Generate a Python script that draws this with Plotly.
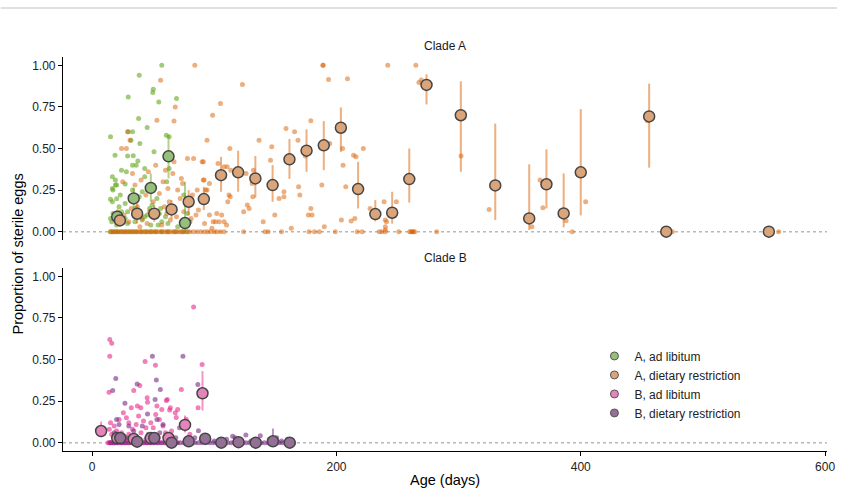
import plotly.graph_objects as go

# ---------------- data ----------------
# Clade A, ad libitum (raw points)
a_al_day = [57, 38.5, 50, 49.6, 29.5, 54.5, 69, 38, 45, 15, 60.7, 63, 33, 29.5, 39, 31.7, 50.6, 18.7, 29, 33.6,
            37.4, 36, 33, 28, 24, 16.5, 19, 43, 43, 19, 16.5, 17, 20, 27, 41, 38.5, 45, 47, 15, 16.5, 20, 22, 27,
            29, 24, 17, 15, 16, 20, 25, 27, 29, 35, 41, 43, 38, 47, 49, 55, 57, 48, 54, 62, 70, 78, 80, 63, 61, 75,
            53, 56, 31, 33, 23, 35, 45, 60,
            15, 17, 19, 21, 24, 27, 30, 33, 36, 40, 44, 48, 52, 57, 62, 68, 74, 78]
a_al_val = [1.00, 0.94, 0.856, 0.837, 0.81, 0.78, 0.80, 0.68, 0.627, 0.57, 0.58, 0.57, 0.60, 0.60, 0.53, 0.55, 0.48,
            0.46, 0.455, 0.457, 0.425, 0.40, 0.40, 0.36, 0.37, 0.33, 0.31, 0.38, 0.33, 0.28, 0.26, 0.25, 0.28, 0.286,
            0.24, 0.21, 0.25, 0.26, 0.195, 0.18, 0.198, 0.15, 0.17, 0.12, 0.12, 0.11, 0.08, 0.06, 0.04, 0.06, 0.08,
            0.05, 0.06, 0.07, 0.09, 0.11, 0.14, 0.16, 0.11, 0.06, 0.04, 0.04, 0.05, 0.03, 0.11, 0.06, 0.38, 0.30,
            0.22, 0.20, 0.14, 0.21, 0.25, 0.22, 0.14, 0.10, 0.09,
            0, 0, 0, 0, 0, 0, 0, 0, 0, 0, 0, 0, 0, 0, 0, 0, 0, 0]

# Clade A, dietary restriction (raw points)
a_dr_day = [84, 56, 68, 67, 53, 94, 29, 31, 24, 28, 83, 90, 67, 52, 46, 60, 58, 25, 35, 40, 33, 66, 73, 62, 70, 48,
            44, 55, 72, 79, 87, 21, 26, 32, 37, 41, 47, 52, 59, 64, 69, 75, 82, 85, 89, 91, 93, 92, 23, 30, 39, 45,
            57, 61, 77, 81, 34, 50, 63, 74, 78, 86,
            123, 105, 98.6, 91, 103, 108, 110.5, 112.7, 113.5, 136.6, 147, 146, 158.7, 165.7, 168.5, 179, 174.5,
            189, 189, 193.5, 209, 242, 265, 267.5, 269.4, 194.5, 205, 205.4, 214, 216, 222, 188, 207.6, 112, 113,
            111, 104, 101, 108, 106, 102, 96, 99, 98, 110, 96, 94, 91.6, 89, 124, 127, 128.5, 131, 131.5, 126, 132,
            140, 149.5, 153, 157, 157, 163, 169, 170, 177, 180, 179, 190, 204, 212, 215, 227.5, 239, 240, 240, 241,
            240, 249,
            302, 325, 360, 366.7, 369, 388, 404, 454.5,
            15, 17, 19, 21, 23, 25, 27, 29, 31, 33, 35, 37, 39, 41, 43, 45, 47, 49, 51, 53, 55, 57, 59, 61, 63, 65,
            67, 69, 71, 73, 75, 77, 80, 83, 86, 89, 92, 94.5, 97, 100, 102, 105, 108, 124, 141.5, 144, 155, 177.5,
            182, 186, 199, 217, 221, 235, 237, 240, 251, 260, 261, 262, 263, 264, 282, 393, 475, 562]
a_dr_val = [1.00, 0.91, 0.75, 0.665, 0.67, 0.55, 0.60, 0.55, 0.50, 0.50, 0.44, 0.42, 0.42, 0.40, 0.36, 0.37, 0.30,
            0.30, 0.28, 0.31, 0.35, 0.35, 0.32, 0.26, 0.25, 0.27, 0.22, 0.23, 0.20, 0.19, 0.13, 0.12, 0.10, 0.14,
            0.15, 0.08, 0.12, 0.10, 0.15, 0.07, 0.09, 0.12, 0.22, 0.10, 0.20, 0.31, 0.25, 0.05, 0.05, 0.06, 0.03,
            0.05, 0.04, 0.11, 0.05, 0.08, 0.19, 0.18, 0.18, 0.29, 0.44, 0.25,
            0.885, 0.77, 0.70, 0.42, 0.41, 0.39, 0.39, 0.50, 0.37, 0.55, 0.51, 0.43, 0.62, 0.60, 0.55, 0.667, 0.455,
            1.00, 1.00, 0.915, 0.92, 1.00, 1.00, 0.896, 0.912, 0.53, 0.50, 0.40, 0.46, 0.45, 0.50, 0.28, 0.27, 0.22,
            0.21, 0.18, 0.06, 0.06, 0.06, 0.10, 0.11, 0.10, 0.06, 0.02, 0.04, 0.29, 0.25, 0.31, 0.20, 0.12, 0.16,
            0.14, 0.29, 0.21, 0.35, 0.37, 0.06, 0.10, 0.20, 0.21, 0.24, 0.02, 0.27, 0.22, 0.10, 0.10, 0.14, 0.03,
            0.07, 0.065, 0.08, 0.14, 0.18, 0.07, 0.03, 0.06, 0.01, 0.18,
            0.455, 0.134, 0.03, 0.31, 0.144, 0.066, 0.18, 0.667,
            0, 0, 0, 0, 0, 0, 0, 0, 0, 0, 0, 0, 0, 0, 0, 0, 0, 0, 0, 0, 0, 0, 0, 0, 0, 0, 0, 0, 0, 0, 0, 0, 0, 0, 0,
            0, 0, 0, 0, 0, 0, 0, 0, 0, 0, 0, 0, 0, 0, 0, 0, 0, 0, 0, 0, 0, 0, 0, 0, 0, 0, 0, 0, 0, 0, 0]

# Clade B, ad libitum (raw points)
b_al_day = [83, 14.4, 16, 14.4, 13.8, 43.3, 51.8, 90, 73, 86.7, 34, 39, 45, 45.3, 39.8, 32, 25.5, 61.5, 64, 68, 38,
            42, 36, 28, 30, 22, 18, 15, 14, 16, 20, 24, 26, 30, 33, 40, 44, 48, 52, 55, 58, 60, 65, 70, 57, 50, 47,
            54, 62, 35, 28, 18, 22, 77, 80, 53, 37, 60.7, 63.4, 68.8,
            13, 14, 15, 16, 17, 18, 19, 20, 22, 24, 26, 28, 30, 32, 34, 36, 38, 40, 42, 44, 46, 48, 50, 53, 56, 59,
            62, 66, 70]
b_al_val = [0.815, 0.62, 0.597, 0.52, 0.303, 0.488, 0.466, 0.47, 0.32, 0.21, 0.313, 0.343, 0.27, 0.243, 0.21, 0.21,
            0.18, 0.26, 0.21, 0.18, 0.16, 0.13, 0.11, 0.15, 0.12, 0.14, 0.10, 0.12, 0.08, 0.05, 0.07, 0.06, 0.04,
            0.05, 0.08, 0.06, 0.09, 0.12, 0.17, 0.14, 0.10, 0.06, 0.07, 0.20, 0.20, 0.09, 0.04, 0.03, 0.03, 0.03,
            0.02, 0.03, 0.02, 0.14, 0.05, 0.22, 0.22, 0.253, 0.197, 0.152,
            0, 0, 0, 0, 0, 0, 0, 0, 0, 0, 0, 0, 0, 0, 0, 0, 0, 0, 0, 0, 0, 0, 0, 0, 0, 0, 0, 0, 0]

# Clade B, dietary restriction (raw points)
b_dr_day = [49.3, 74.3, 19.3, 16.8, 52.5, 55.8, 51.5, 36.8, 86.5, 26.8, 45.3, 20, 22, 87, 71.5, 55.3, 115, 117,
            125.8, 137.6, 151, 68.5, 53, 30, 34, 41, 46, 58, 62, 18, 24, 28, 38, 44, 64, 78, 84, 95, 100, 110, 130,
            145, 155, 160,
            15, 18, 21, 24, 27, 30, 33, 36, 39, 42, 45, 48, 51, 54, 57, 60, 63, 66, 69, 72, 75, 78, 81, 84, 87, 90,
            93, 96, 99, 102, 105, 108, 111, 114, 117, 120, 123, 126, 129, 132, 135, 138, 141, 144, 147, 150, 153,
            156, 159, 162, 165]
b_dr_val = [0.52, 0.52, 0.386, 0.313, 0.377, 0.32, 0.26, 0.353, 0.35, 0.237, 0.173, 0.14, 0.11, 0.072, 0.09, 0.06,
            0.038, 0.03, 0.046, 0.042, 0.03, 0.03, 0.14, 0.10, 0.07, 0.10, 0.05, 0.11, 0.05, 0.06, 0.04, 0.03, 0.02,
            0.02, 0.02, 0.02, 0.03, 0.02, 0.01, 0.02, 0.01, 0.02, 0.01, 0.02,
            0, 0, 0, 0, 0, 0, 0, 0, 0, 0, 0, 0, 0, 0, 0, 0, 0, 0, 0, 0, 0, 0, 0, 0, 0, 0, 0, 0, 0, 0, 0, 0, 0, 0, 0,
            0, 0, 0, 0, 0, 0, 0, 0, 0, 0, 0, 0, 0, 0, 0, 0]

# Binned summaries (mean with interval)
a_al_sum_day = [20.5, 34, 48, 62.5, 76]
a_al_sum_mean = [0.09, 0.20, 0.263, 0.453, 0.052]
a_al_sum_lo = [0.06, 0.145, 0.18, 0.32, 0.0]
a_al_sum_hi = [0.125, 0.263, 0.35, 0.58, 0.30]

a_dr_sum_day = [22.7, 36.8, 50.8, 65, 79, 91.4, 105.5, 119.5, 133.6, 147.7, 161.5, 175.5, 189.6, 203.6, 217.7,
                231.8, 245.6, 259.6, 273.7, 301.8, 330, 357.8, 371.9, 386, 400, 456, 470, 554]
a_dr_sum_mean = [0.068, 0.108, 0.108, 0.134, 0.18, 0.196, 0.34, 0.357, 0.32, 0.28, 0.435, 0.487, 0.519, 0.625,
                 0.256, 0.106, 0.114, 0.316, 0.882, 0.70, 0.278, 0.08, 0.285, 0.11, 0.357, 0.693, 0.0, 0.0]
a_dr_sum_lo = [0.04, 0.05, 0.06, 0.08, 0.10, 0.13, 0.24, 0.24, 0.205, 0.18, 0.317, 0.36, 0.37, 0.48, 0.14, 0.062,
               0.048, 0.175, 0.765, 0.36, 0.07, 0.01, 0.14, 0.026, 0.098, 0.385, 0.0, 0.0]
a_dr_sum_hi = [0.10, 0.17, 0.16, 0.19, 0.25, 0.27, 0.45, 0.487, 0.455, 0.40, 0.557, 0.615, 0.665, 0.747, 0.42,
               0.19, 0.24, 0.50, 0.946, 0.904, 0.65, 0.405, 0.495, 0.35, 0.737, 0.89, 0.0, 0.0]

b_al_sum_day = [7.3, 20.5, 34, 48, 62.5, 76, 90.3]
b_al_sum_mean = [0.07, 0.028, 0.022, 0.028, 0.028, 0.107, 0.297]
b_al_sum_lo = [0.032, 0.015, 0.01, 0.015, 0.015, 0.062, 0.193]
b_al_sum_hi = [0.127, 0.045, 0.035, 0.045, 0.045, 0.163, 0.43]

b_dr_sum_day = [23, 36.8, 50.8, 65, 79, 92.5, 105.7, 119.8, 133.9, 148, 161.7]
b_dr_sum_mean = [0.028, 0.006, 0.028, 0.0, 0.008, 0.024, 0.0, 0.003, 0.0, 0.008, 0.0]
b_dr_sum_lo = [0.015, 0.0, 0.015, 0.0, 0.0, 0.01, 0.0, 0.0, 0.0, 0.0, 0.0]
b_dr_sum_hi = [0.04, 0.015, 0.04, 0.005, 0.02, 0.04, 0.005, 0.01, 0.005, 0.085, 0.005]

group_names = ["A, ad libitum", "A, dietary restriction", "B, ad libitum", "B, dietary restriction"]
y_ticks = [0, 0.25, 0.5, 0.75, 1.0]
y_tick_text = ["0.00", "0.25", "0.50", "0.75", "1.00"]
x_ticks = [0, 200, 400, 600]
x_tick_text = ["0", "200", "400", "600"]

# ---------------- styling ----------------
base = {
    "A, ad libitum": (102, 166, 30),
    "A, dietary restriction": (217, 95, 2),
    "B, ad libitum": (231, 41, 138),
    "B, dietary restriction": (118, 42, 131),
}
summary_fill = {
    "A, ad libitum": "rgb(150,192,122)",
    "A, dietary restriction": "rgb(218,165,122)",
    "B, ad libitum": "rgb(228,132,186)",
    "B, dietary restriction": "rgb(148,112,148)",
}


def rgba(c, a):
    return "rgba(%d,%d,%d,%.2f)" % (c[0], c[1], c[2], a)


raw_alpha = {"A, ad libitum": 0.6, "A, dietary restriction": 0.5,
             "B, ad libitum": 0.6, "B, dietary restriction": 0.6}

fig = go.Figure()

raw_sets = [
    ("A, ad libitum", a_al_day, a_al_val, "x", "y"),
    ("A, dietary restriction", a_dr_day, a_dr_val, "x", "y"),
    ("B, ad libitum", b_al_day, b_al_val, "x2", "y2"),
    ("B, dietary restriction", b_dr_day, b_dr_val, "x2", "y2"),
]
for name, xs, ys, xa, ya in raw_sets:
    fig.add_trace(go.Scatter(
        x=xs, y=ys, mode="markers", xaxis=xa, yaxis=ya, showlegend=False, hoverinfo="skip",
        marker=dict(size=5, color=rgba(base[name], raw_alpha[name]), line=dict(width=0)),
    ))

sum_sets = [
    ("A, ad libitum", a_al_sum_day, a_al_sum_mean, a_al_sum_lo, a_al_sum_hi, "x", "y"),
    ("A, dietary restriction", a_dr_sum_day, a_dr_sum_mean, a_dr_sum_lo, a_dr_sum_hi, "x", "y"),
    ("B, ad libitum", b_al_sum_day, b_al_sum_mean, b_al_sum_lo, b_al_sum_hi, "x2", "y2"),
    ("B, dietary restriction", b_dr_sum_day, b_dr_sum_mean, b_dr_sum_lo, b_dr_sum_hi, "x2", "y2"),
]
for name, xs, m, lo, hi, xa, ya in sum_sets:
    fig.add_trace(go.Scatter(
        x=xs, y=m, mode="markers", xaxis=xa, yaxis=ya, showlegend=False, hoverinfo="skip",
        error_y=dict(type="data", symmetric=False,
                     array=[h - v for h, v in zip(hi, m)],
                     arrayminus=[v - l for v, l in zip(m, lo)],
                     color=rgba(base[name], 0.5), thickness=2, width=0),
        marker=dict(size=11, color=summary_fill[name], line=dict(width=1.5, color="#454545")),
    ))

# legend-only entries
for name in group_names:
    fig.add_trace(go.Scatter(
        x=[None], y=[None], mode="markers", name=name, xaxis="x2", yaxis="y2",
        marker=dict(size=8, color=summary_fill[name], line=dict(width=1, color="#555555")),
    ))

FONT = "Liberation Sans, Arial, sans-serif"
axis_font = dict(family=FONT, size=12, color="#222222")

yaxis_common = dict(range=[-0.05, 1.05], tickvals=y_ticks, ticktext=y_tick_text, showgrid=False,
                    zeroline=False, showline=True, linecolor="black", linewidth=1.2, ticks="outside",
                    ticklen=4, tickcolor="black", tickwidth=1.1, tickfont=axis_font)

x_range = [-23.9, 601.6]

fig.update_layout(
    width=845, height=488,
    margin=dict(l=63, r=10, t=57, b=37),
    paper_bgcolor="white", plot_bgcolor="white",
    font=dict(family=FONT, color="black"),
    xaxis=dict(domain=[0, 1], anchor="y", range=x_range, showticklabels=False, showgrid=False,
               zeroline=False, showline=False, ticks=""),
    yaxis=dict(domain=[0.5355, 1], anchor="x", **yaxis_common),
    xaxis2=dict(domain=[0, 1], anchor="y2", range=x_range, tickvals=x_ticks, ticktext=x_tick_text,
                showgrid=False, zeroline=False, showline=True, linecolor="black", linewidth=1.2,
                ticks="outside", ticklen=4, tickcolor="black", tickwidth=1.1, tickfont=axis_font),
    yaxis2=dict(domain=[0, 0.4645], anchor="x2", **yaxis_common),
    legend=dict(x=0.6956, y=0.278, xanchor="left", yanchor="top", bgcolor="rgba(0,0,0,0)",
                font=dict(family=FONT, size=12, color="#222222"),
                tracegroupgap=0, itemwidth=30),
    showlegend=True,
)

# zero reference lines (dotted)
for ya in ["y", "y2"]:
    fig.add_shape(type="line", xref="paper", x0=0, x1=1, yref=ya, y0=0, y1=0,
                  line=dict(color="#b8b8b8", width=1.5, dash="dot"), layer="below")

# thin grey rule at top of page
fig.add_shape(type="line", xref="paper", yref="paper", x0=-0.0816, x1=1.013, y0=1.1244, y1=1.1244,
              line=dict(color="#d6d6d6", width=1.5))

# facet titles and axis titles
fig.add_annotation(text="Clade A", xref="paper", yref="paper", x=0.5, y=1.028, xanchor="center",
                   yanchor="middle", showarrow=False, font=dict(size=12, color="#1a1a1a"))
fig.add_annotation(text="Clade B", xref="paper", yref="paper", x=0.5, y=0.49, xanchor="center",
                   yanchor="middle", showarrow=False, font=dict(size=12, color="#1a1a1a"))
fig.add_annotation(text="Proportion of sterile eggs", xref="paper", yref="paper", x=-0.0583, y=0.5,
                   xanchor="center", yanchor="middle", textangle=-90, showarrow=False,
                   font=dict(size=14.5, color="black"))
fig.add_annotation(text="Age (days)", xref="paper", yref="paper", x=0.5, y=-0.0736, xanchor="center",
                   yanchor="middle", showarrow=False, font=dict(size=14.5, color="black"))

# place the figure flush with the page corner (no default body margin), no toolbar
fig.write_html("out.html", config={"displayModeBar": False},
               post_script="document.body.style.margin='0';")
